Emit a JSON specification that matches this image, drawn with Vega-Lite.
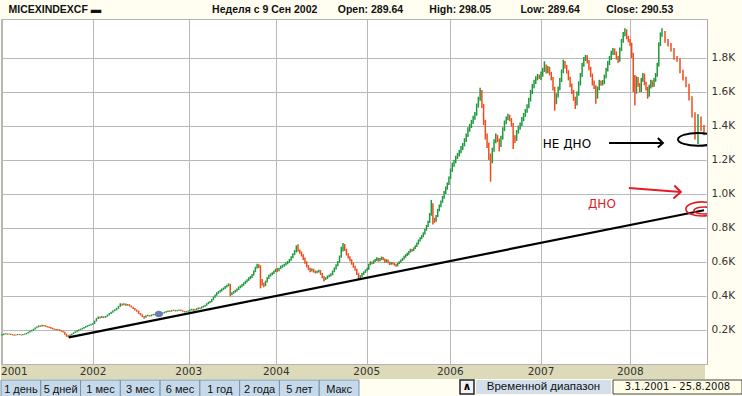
{
"$schema": "https://vega.github.io/schema/vega-lite/v6.json",
"background": "#fffef0",
"padding": {"top": 5, "left": 0, "right": 0, "bottom": 0},
"spacing": 0,
"config": {"view": {"stroke": null}, "concat": {"spacing": 0}},
"title": {"text": "MICEXINDEXCF \u25ac\u00a0\u00a0\u00a0\u00a0\u00a0\u00a0\u00a0\u00a0\u00a0\u00a0\u00a0\u00a0\u00a0\u00a0\u00a0\u00a0\u00a0\u00a0\u00a0\u00a0\u00a0\u00a0\u00a0\u00a0\u00a0\u00a0\u00a0\u00a0\u00a0\u00a0\u00a0\u00a0\u00a0\u00a0\u00a0\u00a0\u00a0\u00a0Неделя с 9 Сен 2002\u00a0\u00a0\u00a0\u00a0\u00a0\u00a0\u00a0Open: 289.64\u00a0\u00a0\u00a0\u00a0\u00a0\u00a0\u00a0\u00a0\u00a0High: 298.05\u00a0\u00a0\u00a0\u00a0\u00a0\u00a0\u00a0\u00a0\u00a0\u00a0Low: 289.64\u00a0\u00a0\u00a0\u00a0\u00a0\u00a0\u00a0\u00a0\u00a0Close: 290.53", "anchor": "start", "dx": 8, "offset": 3, "font": "Liberation Sans", "fontSize": 10.5, "fontWeight": "bold", "color": "#111111"},
"datasets": {
"w": [
{"d":"2001-01-01","o":168,"h":175,"l":166,"c":172},
{"d":"2001-01-08","o":172,"h":179,"l":170,"c":176},
{"d":"2001-01-15","o":176,"h":181,"l":174,"c":178},
{"d":"2001-01-22","o":178,"h":180,"l":172,"c":175},
{"d":"2001-01-29","o":175,"h":179,"l":173,"c":177},
{"d":"2001-02-05","o":177,"h":178,"l":171,"c":174},
{"d":"2001-02-12","o":174,"h":176,"l":169,"c":172},
{"d":"2001-02-19","o":172,"h":174,"l":166,"c":169},
{"d":"2001-02-26","o":169,"h":173,"l":167,"c":171},
{"d":"2001-03-05","o":171,"h":176,"l":170,"c":174},
{"d":"2001-03-12","o":174,"h":176,"l":170,"c":172},
{"d":"2001-03-19","o":172,"h":174,"l":167,"c":170},
{"d":"2001-03-26","o":170,"h":176,"l":169,"c":174},
{"d":"2001-04-02","o":174,"h":179,"l":172,"c":177},
{"d":"2001-04-09","o":177,"h":183,"l":175,"c":181},
{"d":"2001-04-16","o":181,"h":189,"l":179,"c":187},
{"d":"2001-04-23","o":187,"h":195,"l":185,"c":193},
{"d":"2001-04-30","o":193,"h":201,"l":191,"c":199},
{"d":"2001-05-07","o":199,"h":207,"l":196,"c":205},
{"d":"2001-05-14","o":205,"h":214,"l":203,"c":212},
{"d":"2001-05-21","o":212,"h":221,"l":210,"c":219},
{"d":"2001-05-28","o":219,"h":227,"l":216,"c":224},
{"d":"2001-06-04","o":224,"h":227,"l":218,"c":222},
{"d":"2001-06-11","o":222,"h":231,"l":220,"c":228},
{"d":"2001-06-18","o":228,"h":230,"l":222,"c":226},
{"d":"2001-06-25","o":226,"h":228,"l":218,"c":221},
{"d":"2001-07-02","o":221,"h":223,"l":215,"c":218},
{"d":"2001-07-09","o":218,"h":220,"l":211,"c":214},
{"d":"2001-07-16","o":214,"h":217,"l":207,"c":210},
{"d":"2001-07-23","o":210,"h":213,"l":204,"c":207},
{"d":"2001-07-30","o":207,"h":209,"l":201,"c":204},
{"d":"2001-08-06","o":204,"h":206,"l":198,"c":200},
{"d":"2001-08-13","o":200,"h":205,"l":198,"c":203},
{"d":"2001-08-20","o":203,"h":205,"l":194,"c":196},
{"d":"2001-08-27","o":196,"h":198,"l":190,"c":193},
{"d":"2001-09-03","o":193,"h":195,"l":185,"c":188},
{"d":"2001-09-10","o":188,"h":190,"l":172,"c":176},
{"d":"2001-09-17","o":176,"h":178,"l":160,"c":166},
{"d":"2001-09-24","o":166,"h":170,"l":156,"c":163},
{"d":"2001-10-01","o":163,"h":174,"l":161,"c":171},
{"d":"2001-10-08","o":171,"h":180,"l":169,"c":178},
{"d":"2001-10-15","o":178,"h":186,"l":176,"c":184},
{"d":"2001-10-22","o":184,"h":192,"l":182,"c":190},
{"d":"2001-10-29","o":190,"h":198,"l":187,"c":196},
{"d":"2001-11-05","o":196,"h":203,"l":193,"c":201},
{"d":"2001-11-12","o":201,"h":208,"l":199,"c":206},
{"d":"2001-11-19","o":206,"h":213,"l":203,"c":211},
{"d":"2001-11-26","o":211,"h":218,"l":208,"c":216},
{"d":"2001-12-03","o":216,"h":223,"l":213,"c":221},
{"d":"2001-12-10","o":221,"h":228,"l":218,"c":226},
{"d":"2001-12-17","o":226,"h":232,"l":223,"c":230},
{"d":"2001-12-24","o":230,"h":236,"l":227,"c":234},
{"d":"2001-12-31","o":234,"h":240,"l":231,"c":237},
{"d":"2002-01-07","o":237,"h":255,"l":235,"c":252},
{"d":"2002-01-14","o":252,"h":270,"l":250,"c":268},
{"d":"2002-01-21","o":268,"h":280,"l":265,"c":276},
{"d":"2002-01-28","o":276,"h":279,"l":268,"c":272},
{"d":"2002-02-04","o":272,"h":282,"l":270,"c":278},
{"d":"2002-02-11","o":278,"h":280,"l":270,"c":274},
{"d":"2002-02-18","o":274,"h":283,"l":272,"c":280},
{"d":"2002-02-25","o":280,"h":291,"l":278,"c":288},
{"d":"2002-03-04","o":288,"h":299,"l":286,"c":296},
{"d":"2002-03-11","o":296,"h":308,"l":294,"c":305},
{"d":"2002-03-18","o":305,"h":316,"l":302,"c":313},
{"d":"2002-03-25","o":313,"h":322,"l":310,"c":318},
{"d":"2002-04-01","o":318,"h":330,"l":316,"c":326},
{"d":"2002-04-08","o":326,"h":342,"l":324,"c":338},
{"d":"2002-04-15","o":338,"h":357,"l":336,"c":352},
{"d":"2002-04-22","o":352,"h":356,"l":343,"c":348},
{"d":"2002-04-29","o":348,"h":358,"l":346,"c":354},
{"d":"2002-05-06","o":354,"h":356,"l":342,"c":346},
{"d":"2002-05-13","o":346,"h":353,"l":343,"c":350},
{"d":"2002-05-20","o":350,"h":352,"l":338,"c":342},
{"d":"2002-05-27","o":342,"h":344,"l":332,"c":335},
{"d":"2002-06-03","o":335,"h":337,"l":323,"c":326},
{"d":"2002-06-10","o":326,"h":329,"l":315,"c":318},
{"d":"2002-06-17","o":318,"h":320,"l":308,"c":312},
{"d":"2002-06-24","o":312,"h":314,"l":294,"c":298},
{"d":"2002-07-01","o":298,"h":300,"l":286,"c":290},
{"d":"2002-07-08","o":290,"h":292,"l":276,"c":280},
{"d":"2002-07-15","o":280,"h":283,"l":266,"c":275},
{"d":"2002-07-22","o":275,"h":287,"l":272,"c":284},
{"d":"2002-07-29","o":284,"h":290,"l":281,"c":286},
{"d":"2002-08-05","o":286,"h":288,"l":279,"c":282},
{"d":"2002-08-12","o":282,"h":291,"l":280,"c":288},
{"d":"2002-08-19","o":288,"h":295,"l":286,"c":292},
{"d":"2002-08-26","o":292,"h":294,"l":286,"c":289},
{"d":"2002-09-02","o":289,"h":292,"l":285,"c":288},
{"d":"2002-09-09","o":289.64,"h":298.05,"l":289.64,"c":290.53},
{"d":"2002-09-16","o":291,"h":299,"l":289,"c":296},
{"d":"2002-09-23","o":296,"h":303,"l":294,"c":300},
{"d":"2002-09-30","o":300,"h":307,"l":298,"c":304},
{"d":"2002-10-07","o":304,"h":311,"l":302,"c":308},
{"d":"2002-10-14","o":308,"h":315,"l":306,"c":312},
{"d":"2002-10-21","o":312,"h":314,"l":306,"c":310},
{"d":"2002-10-28","o":310,"h":317,"l":308,"c":314},
{"d":"2002-11-04","o":314,"h":320,"l":312,"c":316},
{"d":"2002-11-11","o":316,"h":318,"l":309,"c":312},
{"d":"2002-11-18","o":312,"h":318,"l":310,"c":315},
{"d":"2002-11-25","o":315,"h":321,"l":313,"c":318},
{"d":"2002-12-02","o":318,"h":320,"l":311,"c":314},
{"d":"2002-12-09","o":314,"h":316,"l":307,"c":310},
{"d":"2002-12-16","o":310,"h":312,"l":303,"c":306},
{"d":"2002-12-23","o":306,"h":312,"l":304,"c":309},
{"d":"2002-12-30","o":309,"h":314,"l":307,"c":311},
{"d":"2003-01-06","o":311,"h":321,"l":309,"c":318},
{"d":"2003-01-13","o":318,"h":325,"l":315,"c":322},
{"d":"2003-01-20","o":322,"h":324,"l":313,"c":316},
{"d":"2003-01-27","o":316,"h":323,"l":314,"c":320},
{"d":"2003-02-03","o":320,"h":328,"l":318,"c":325},
{"d":"2003-02-10","o":325,"h":333,"l":322,"c":330},
{"d":"2003-02-17","o":330,"h":333,"l":324,"c":328},
{"d":"2003-02-24","o":328,"h":338,"l":326,"c":335},
{"d":"2003-03-03","o":335,"h":343,"l":332,"c":340},
{"d":"2003-03-10","o":340,"h":349,"l":337,"c":346},
{"d":"2003-03-17","o":346,"h":358,"l":343,"c":355},
{"d":"2003-03-24","o":355,"h":366,"l":352,"c":362},
{"d":"2003-03-31","o":362,"h":370,"l":358,"c":366},
{"d":"2003-04-07","o":366,"h":382,"l":363,"c":378},
{"d":"2003-04-14","o":378,"h":396,"l":375,"c":392},
{"d":"2003-04-21","o":392,"h":409,"l":389,"c":405},
{"d":"2003-04-28","o":405,"h":422,"l":401,"c":418},
{"d":"2003-05-05","o":418,"h":429,"l":413,"c":425},
{"d":"2003-05-12","o":425,"h":436,"l":420,"c":432},
{"d":"2003-05-19","o":432,"h":444,"l":427,"c":440},
{"d":"2003-05-26","o":440,"h":450,"l":435,"c":446},
{"d":"2003-06-02","o":446,"h":459,"l":441,"c":455},
{"d":"2003-06-09","o":455,"h":466,"l":450,"c":462},
{"d":"2003-06-16","o":462,"h":474,"l":457,"c":468},
{"d":"2003-06-23","o":468,"h":472,"l":398,"c":410},
{"d":"2003-06-30","o":410,"h":422,"l":404,"c":418},
{"d":"2003-07-07","o":418,"h":429,"l":413,"c":425},
{"d":"2003-07-14","o":425,"h":436,"l":420,"c":432},
{"d":"2003-07-21","o":432,"h":444,"l":427,"c":440},
{"d":"2003-07-28","o":440,"h":455,"l":435,"c":450},
{"d":"2003-08-04","o":450,"h":462,"l":445,"c":458},
{"d":"2003-08-11","o":458,"h":470,"l":452,"c":466},
{"d":"2003-08-18","o":466,"h":480,"l":460,"c":476},
{"d":"2003-08-25","o":476,"h":490,"l":470,"c":486},
{"d":"2003-09-01","o":486,"h":499,"l":480,"c":495},
{"d":"2003-09-08","o":495,"h":510,"l":489,"c":505},
{"d":"2003-09-15","o":505,"h":518,"l":498,"c":512},
{"d":"2003-09-22","o":512,"h":530,"l":506,"c":525},
{"d":"2003-09-29","o":525,"h":550,"l":520,"c":545},
{"d":"2003-10-06","o":545,"h":572,"l":540,"c":568},
{"d":"2003-10-13","o":568,"h":590,"l":562,"c":582},
{"d":"2003-10-20","o":582,"h":586,"l":565,"c":575},
{"d":"2003-10-27","o":575,"h":580,"l":445,"c":495},
{"d":"2003-11-03","o":495,"h":500,"l":462,"c":470},
{"d":"2003-11-10","o":470,"h":478,"l":452,"c":462},
{"d":"2003-11-17","o":462,"h":490,"l":458,"c":485},
{"d":"2003-11-24","o":485,"h":510,"l":480,"c":505},
{"d":"2003-12-01","o":505,"h":525,"l":500,"c":520},
{"d":"2003-12-08","o":520,"h":533,"l":514,"c":528},
{"d":"2003-12-15","o":528,"h":540,"l":522,"c":535},
{"d":"2003-12-22","o":535,"h":550,"l":530,"c":545},
{"d":"2003-12-29","o":545,"h":560,"l":540,"c":556},
{"d":"2004-01-05","o":556,"h":565,"l":540,"c":548},
{"d":"2004-01-12","o":548,"h":566,"l":545,"c":562},
{"d":"2004-01-19","o":562,"h":578,"l":558,"c":572},
{"d":"2004-01-26","o":572,"h":584,"l":566,"c":578},
{"d":"2004-02-02","o":578,"h":590,"l":572,"c":585},
{"d":"2004-02-09","o":585,"h":598,"l":579,"c":592},
{"d":"2004-02-16","o":592,"h":606,"l":586,"c":600},
{"d":"2004-02-23","o":600,"h":618,"l":595,"c":612},
{"d":"2004-03-01","o":612,"h":634,"l":607,"c":628},
{"d":"2004-03-08","o":628,"h":652,"l":622,"c":645},
{"d":"2004-03-15","o":645,"h":670,"l":640,"c":662},
{"d":"2004-03-22","o":662,"h":698,"l":656,"c":688},
{"d":"2004-03-29","o":688,"h":704,"l":660,"c":668},
{"d":"2004-04-05","o":668,"h":674,"l":648,"c":655},
{"d":"2004-04-12","o":655,"h":662,"l":632,"c":640},
{"d":"2004-04-19","o":640,"h":646,"l":612,"c":620},
{"d":"2004-04-26","o":620,"h":626,"l":590,"c":598},
{"d":"2004-05-03","o":598,"h":604,"l":568,"c":575},
{"d":"2004-05-10","o":575,"h":582,"l":552,"c":560},
{"d":"2004-05-17","o":560,"h":566,"l":540,"c":548},
{"d":"2004-05-24","o":548,"h":562,"l":544,"c":556},
{"d":"2004-05-31","o":556,"h":560,"l":538,"c":545},
{"d":"2004-06-07","o":545,"h":550,"l":532,"c":538},
{"d":"2004-06-14","o":538,"h":548,"l":534,"c":542},
{"d":"2004-06-21","o":542,"h":555,"l":538,"c":548},
{"d":"2004-06-28","o":548,"h":552,"l":524,"c":530},
{"d":"2004-07-05","o":530,"h":535,"l":505,"c":512},
{"d":"2004-07-12","o":512,"h":518,"l":485,"c":498},
{"d":"2004-07-19","o":498,"h":510,"l":494,"c":505},
{"d":"2004-07-26","o":505,"h":520,"l":500,"c":515},
{"d":"2004-08-02","o":515,"h":526,"l":510,"c":520},
{"d":"2004-08-09","o":520,"h":534,"l":515,"c":528},
{"d":"2004-08-16","o":528,"h":550,"l":522,"c":545},
{"d":"2004-08-23","o":545,"h":568,"l":540,"c":562},
{"d":"2004-08-30","o":562,"h":586,"l":556,"c":580},
{"d":"2004-09-06","o":580,"h":606,"l":575,"c":600},
{"d":"2004-09-13","o":600,"h":638,"l":595,"c":630},
{"d":"2004-09-20","o":630,"h":690,"l":625,"c":668},
{"d":"2004-09-27","o":668,"h":712,"l":662,"c":700},
{"d":"2004-10-04","o":700,"h":706,"l":665,"c":672},
{"d":"2004-10-11","o":672,"h":678,"l":638,"c":645},
{"d":"2004-10-18","o":645,"h":652,"l":620,"c":628},
{"d":"2004-10-25","o":628,"h":634,"l":604,"c":610},
{"d":"2004-11-01","o":610,"h":616,"l":584,"c":590},
{"d":"2004-11-08","o":590,"h":596,"l":566,"c":572},
{"d":"2004-11-15","o":572,"h":578,"l":548,"c":555},
{"d":"2004-11-22","o":555,"h":560,"l":524,"c":530},
{"d":"2004-11-29","o":530,"h":536,"l":495,"c":505},
{"d":"2004-12-06","o":505,"h":522,"l":500,"c":518},
{"d":"2004-12-13","o":518,"h":535,"l":512,"c":530},
{"d":"2004-12-20","o":530,"h":545,"l":524,"c":540},
{"d":"2004-12-27","o":540,"h":556,"l":535,"c":552},
{"d":"2005-01-03","o":552,"h":566,"l":545,"c":560},
{"d":"2005-01-10","o":560,"h":590,"l":555,"c":585},
{"d":"2005-01-17","o":585,"h":604,"l":580,"c":598},
{"d":"2005-01-24","o":598,"h":602,"l":586,"c":592},
{"d":"2005-01-31","o":592,"h":610,"l":588,"c":605},
{"d":"2005-02-07","o":605,"h":618,"l":600,"c":612},
{"d":"2005-02-14","o":612,"h":628,"l":606,"c":620},
{"d":"2005-02-21","o":620,"h":624,"l":602,"c":608},
{"d":"2005-02-28","o":608,"h":624,"l":604,"c":618},
{"d":"2005-03-07","o":618,"h":632,"l":612,"c":625},
{"d":"2005-03-14","o":625,"h":630,"l":610,"c":615},
{"d":"2005-03-21","o":615,"h":620,"l":596,"c":602},
{"d":"2005-03-28","o":602,"h":616,"l":598,"c":610},
{"d":"2005-04-04","o":610,"h":614,"l":592,"c":598},
{"d":"2005-04-11","o":598,"h":602,"l":582,"c":588},
{"d":"2005-04-18","o":588,"h":600,"l":584,"c":595},
{"d":"2005-04-25","o":595,"h":598,"l":585,"c":590},
{"d":"2005-05-02","o":590,"h":594,"l":578,"c":584},
{"d":"2005-05-09","o":584,"h":588,"l":572,"c":578},
{"d":"2005-05-16","o":578,"h":596,"l":574,"c":592},
{"d":"2005-05-23","o":592,"h":605,"l":588,"c":600},
{"d":"2005-05-30","o":600,"h":615,"l":596,"c":610},
{"d":"2005-06-06","o":610,"h":624,"l":606,"c":618},
{"d":"2005-06-13","o":618,"h":636,"l":614,"c":630},
{"d":"2005-06-20","o":630,"h":646,"l":625,"c":640},
{"d":"2005-06-27","o":640,"h":654,"l":635,"c":648},
{"d":"2005-07-04","o":648,"h":666,"l":643,"c":660},
{"d":"2005-07-11","o":660,"h":678,"l":655,"c":672},
{"d":"2005-07-18","o":672,"h":676,"l":660,"c":668},
{"d":"2005-07-25","o":668,"h":686,"l":664,"c":680},
{"d":"2005-08-01","o":680,"h":698,"l":676,"c":692},
{"d":"2005-08-08","o":692,"h":714,"l":688,"c":708},
{"d":"2005-08-15","o":708,"h":732,"l":703,"c":725},
{"d":"2005-08-22","o":725,"h":746,"l":720,"c":740},
{"d":"2005-08-29","o":740,"h":758,"l":734,"c":752},
{"d":"2005-09-05","o":752,"h":774,"l":746,"c":768},
{"d":"2005-09-12","o":768,"h":796,"l":762,"c":790},
{"d":"2005-09-19","o":790,"h":818,"l":784,"c":812},
{"d":"2005-09-26","o":812,"h":842,"l":806,"c":835},
{"d":"2005-10-03","o":835,"h":888,"l":830,"c":880},
{"d":"2005-10-10","o":880,"h":965,"l":872,"c":940},
{"d":"2005-10-17","o":940,"h":945,"l":820,"c":850},
{"d":"2005-10-24","o":850,"h":860,"l":830,"c":842},
{"d":"2005-10-31","o":842,"h":876,"l":836,"c":870},
{"d":"2005-11-07","o":870,"h":912,"l":864,"c":905},
{"d":"2005-11-14","o":905,"h":938,"l":898,"c":930},
{"d":"2005-11-21","o":930,"h":962,"l":922,"c":955},
{"d":"2005-11-28","o":955,"h":988,"l":948,"c":980},
{"d":"2005-12-05","o":980,"h":1018,"l":972,"c":1010},
{"d":"2005-12-12","o":1010,"h":1044,"l":1000,"c":1035},
{"d":"2005-12-19","o":1035,"h":1068,"l":1025,"c":1060},
{"d":"2005-12-26","o":1060,"h":1102,"l":1052,"c":1095},
{"d":"2006-01-02","o":1095,"h":1150,"l":1088,"c":1140},
{"d":"2006-01-09","o":1140,"h":1185,"l":1130,"c":1175},
{"d":"2006-01-16","o":1175,"h":1200,"l":1160,"c":1190},
{"d":"2006-01-23","o":1190,"h":1225,"l":1180,"c":1215},
{"d":"2006-01-30","o":1215,"h":1242,"l":1205,"c":1230},
{"d":"2006-02-06","o":1230,"h":1260,"l":1220,"c":1250},
{"d":"2006-02-13","o":1250,"h":1282,"l":1240,"c":1270},
{"d":"2006-02-20","o":1270,"h":1300,"l":1258,"c":1290},
{"d":"2006-02-27","o":1290,"h":1328,"l":1280,"c":1318},
{"d":"2006-03-06","o":1318,"h":1356,"l":1305,"c":1345},
{"d":"2006-03-13","o":1345,"h":1392,"l":1335,"c":1380},
{"d":"2006-03-20","o":1380,"h":1412,"l":1366,"c":1400},
{"d":"2006-03-27","o":1400,"h":1436,"l":1388,"c":1425},
{"d":"2006-04-03","o":1425,"h":1460,"l":1412,"c":1448},
{"d":"2006-04-10","o":1448,"h":1482,"l":1436,"c":1470},
{"d":"2006-04-17","o":1470,"h":1532,"l":1460,"c":1520},
{"d":"2006-04-24","o":1520,"h":1572,"l":1508,"c":1560},
{"d":"2006-05-01","o":1560,"h":1625,"l":1548,"c":1605},
{"d":"2006-05-08","o":1605,"h":1612,"l":1505,"c":1520},
{"d":"2006-05-15","o":1520,"h":1530,"l":1405,"c":1420},
{"d":"2006-05-22","o":1420,"h":1436,"l":1320,"c":1340},
{"d":"2006-05-29","o":1340,"h":1355,"l":1270,"c":1290},
{"d":"2006-06-05","o":1290,"h":1302,"l":1200,"c":1220},
{"d":"2006-06-12","o":1220,"h":1238,"l":1072,"c":1190},
{"d":"2006-06-19","o":1190,"h":1272,"l":1180,"c":1260},
{"d":"2006-06-26","o":1260,"h":1322,"l":1248,"c":1310},
{"d":"2006-07-03","o":1310,"h":1355,"l":1298,"c":1340},
{"d":"2006-07-10","o":1340,"h":1348,"l":1305,"c":1320},
{"d":"2006-07-17","o":1320,"h":1326,"l":1250,"c":1285},
{"d":"2006-07-24","o":1285,"h":1342,"l":1276,"c":1330},
{"d":"2006-07-31","o":1330,"h":1392,"l":1320,"c":1380},
{"d":"2006-08-07","o":1380,"h":1432,"l":1370,"c":1420},
{"d":"2006-08-14","o":1420,"h":1456,"l":1410,"c":1445},
{"d":"2006-08-21","o":1445,"h":1472,"l":1434,"c":1460},
{"d":"2006-08-28","o":1460,"h":1466,"l":1428,"c":1440},
{"d":"2006-09-04","o":1440,"h":1446,"l":1398,"c":1410},
{"d":"2006-09-11","o":1410,"h":1418,"l":1264,"c":1330},
{"d":"2006-09-18","o":1330,"h":1345,"l":1300,"c":1320},
{"d":"2006-09-25","o":1320,"h":1376,"l":1312,"c":1365},
{"d":"2006-10-02","o":1365,"h":1402,"l":1355,"c":1390},
{"d":"2006-10-09","o":1390,"h":1420,"l":1378,"c":1410},
{"d":"2006-10-16","o":1410,"h":1452,"l":1400,"c":1440},
{"d":"2006-10-23","o":1440,"h":1476,"l":1428,"c":1465},
{"d":"2006-10-30","o":1465,"h":1500,"l":1454,"c":1490},
{"d":"2006-11-06","o":1490,"h":1528,"l":1478,"c":1515},
{"d":"2006-11-13","o":1515,"h":1566,"l":1504,"c":1555},
{"d":"2006-11-20","o":1555,"h":1612,"l":1544,"c":1600},
{"d":"2006-11-27","o":1600,"h":1648,"l":1588,"c":1635},
{"d":"2006-12-04","o":1635,"h":1672,"l":1622,"c":1660},
{"d":"2006-12-11","o":1660,"h":1692,"l":1646,"c":1680},
{"d":"2006-12-18","o":1680,"h":1706,"l":1668,"c":1695},
{"d":"2006-12-25","o":1695,"h":1702,"l":1676,"c":1690},
{"d":"2007-01-01","o":1690,"h":1720,"l":1670,"c":1700},
{"d":"2007-01-08","o":1700,"h":1742,"l":1690,"c":1730},
{"d":"2007-01-15","o":1730,"h":1780,"l":1718,"c":1755},
{"d":"2007-01-22","o":1755,"h":1762,"l":1708,"c":1720},
{"d":"2007-01-29","o":1720,"h":1752,"l":1710,"c":1740},
{"d":"2007-02-05","o":1740,"h":1748,"l":1698,"c":1710},
{"d":"2007-02-12","o":1710,"h":1718,"l":1668,"c":1680},
{"d":"2007-02-19","o":1680,"h":1688,"l":1608,"c":1620},
{"d":"2007-02-26","o":1620,"h":1630,"l":1490,"c":1540},
{"d":"2007-03-05","o":1540,"h":1592,"l":1528,"c":1580},
{"d":"2007-03-12","o":1580,"h":1632,"l":1568,"c":1620},
{"d":"2007-03-19","o":1620,"h":1682,"l":1610,"c":1670},
{"d":"2007-03-26","o":1670,"h":1732,"l":1658,"c":1720},
{"d":"2007-04-02","o":1720,"h":1790,"l":1710,"c":1770},
{"d":"2007-04-09","o":1770,"h":1782,"l":1738,"c":1750},
{"d":"2007-04-16","o":1750,"h":1758,"l":1708,"c":1720},
{"d":"2007-04-23","o":1720,"h":1728,"l":1668,"c":1680},
{"d":"2007-04-30","o":1680,"h":1690,"l":1628,"c":1640},
{"d":"2007-05-07","o":1640,"h":1650,"l":1588,"c":1600},
{"d":"2007-05-14","o":1600,"h":1612,"l":1548,"c":1560},
{"d":"2007-05-21","o":1560,"h":1572,"l":1500,"c":1530},
{"d":"2007-05-28","o":1530,"h":1602,"l":1520,"c":1590},
{"d":"2007-06-04","o":1590,"h":1662,"l":1578,"c":1650},
{"d":"2007-06-11","o":1650,"h":1712,"l":1638,"c":1700},
{"d":"2007-06-18","o":1700,"h":1772,"l":1688,"c":1760},
{"d":"2007-06-25","o":1760,"h":1806,"l":1748,"c":1795},
{"d":"2007-07-02","o":1795,"h":1818,"l":1782,"c":1810},
{"d":"2007-07-09","o":1810,"h":1816,"l":1768,"c":1780},
{"d":"2007-07-16","o":1780,"h":1788,"l":1728,"c":1740},
{"d":"2007-07-23","o":1740,"h":1748,"l":1688,"c":1700},
{"d":"2007-07-30","o":1700,"h":1708,"l":1638,"c":1650},
{"d":"2007-08-06","o":1650,"h":1668,"l":1618,"c":1630},
{"d":"2007-08-13","o":1630,"h":1640,"l":1530,"c":1570},
{"d":"2007-08-20","o":1570,"h":1632,"l":1560,"c":1620},
{"d":"2007-08-27","o":1620,"h":1672,"l":1610,"c":1660},
{"d":"2007-09-03","o":1660,"h":1668,"l":1636,"c":1650},
{"d":"2007-09-10","o":1650,"h":1670,"l":1638,"c":1655},
{"d":"2007-09-17","o":1655,"h":1702,"l":1646,"c":1690},
{"d":"2007-09-24","o":1690,"h":1742,"l":1680,"c":1730},
{"d":"2007-10-01","o":1730,"h":1782,"l":1720,"c":1770},
{"d":"2007-10-08","o":1770,"h":1812,"l":1758,"c":1800},
{"d":"2007-10-15","o":1800,"h":1842,"l":1788,"c":1830},
{"d":"2007-10-22","o":1830,"h":1858,"l":1818,"c":1850},
{"d":"2007-10-29","o":1850,"h":1856,"l":1818,"c":1830},
{"d":"2007-11-05","o":1830,"h":1838,"l":1790,"c":1800},
{"d":"2007-11-12","o":1800,"h":1812,"l":1770,"c":1785},
{"d":"2007-11-19","o":1785,"h":1862,"l":1778,"c":1850},
{"d":"2007-11-26","o":1850,"h":1912,"l":1840,"c":1900},
{"d":"2007-12-03","o":1900,"h":1952,"l":1890,"c":1940},
{"d":"2007-12-10","o":1940,"h":1975,"l":1928,"c":1960},
{"d":"2007-12-17","o":1960,"h":1968,"l":1910,"c":1920},
{"d":"2007-12-24","o":1920,"h":1930,"l":1892,"c":1900},
{"d":"2007-12-31","o":1900,"h":1912,"l":1870,"c":1880},
{"d":"2008-01-07","o":1880,"h":1890,"l":1800,"c":1820},
{"d":"2008-01-14","o":1820,"h":1830,"l":1600,"c":1650},
{"d":"2008-01-21","o":1650,"h":1700,"l":1520,"c":1600},
{"d":"2008-01-28","o":1600,"h":1692,"l":1590,"c":1680},
{"d":"2008-02-04","o":1680,"h":1688,"l":1630,"c":1640},
{"d":"2008-02-11","o":1640,"h":1652,"l":1598,"c":1610},
{"d":"2008-02-18","o":1610,"h":1682,"l":1600,"c":1670},
{"d":"2008-02-25","o":1670,"h":1712,"l":1660,"c":1700},
{"d":"2008-03-03","o":1700,"h":1708,"l":1640,"c":1650},
{"d":"2008-03-10","o":1650,"h":1660,"l":1608,"c":1620},
{"d":"2008-03-17","o":1620,"h":1630,"l":1560,"c":1580},
{"d":"2008-03-24","o":1580,"h":1642,"l":1572,"c":1630},
{"d":"2008-03-31","o":1630,"h":1672,"l":1620,"c":1660},
{"d":"2008-04-07","o":1660,"h":1668,"l":1628,"c":1640},
{"d":"2008-04-14","o":1640,"h":1682,"l":1630,"c":1670},
{"d":"2008-04-21","o":1670,"h":1712,"l":1660,"c":1700},
{"d":"2008-04-28","o":1700,"h":1772,"l":1690,"c":1760},
{"d":"2008-05-05","o":1760,"h":1892,"l":1750,"c":1880},
{"d":"2008-05-12","o":1880,"h":1950,"l":1870,"c":1940},
{"d":"2008-05-19","o":1940,"h":1975,"l":1925,"c":1950},
{"d":"2008-05-26","o":1950,"h":1958,"l":1890,"c":1900},
{"d":"2008-06-02","o":1900,"h":1912,"l":1868,"c":1880},
{"d":"2008-06-09","o":1880,"h":1888,"l":1838,"c":1850},
{"d":"2008-06-16","o":1850,"h":1858,"l":1790,"c":1800},
{"d":"2008-06-23","o":1800,"h":1812,"l":1778,"c":1790},
{"d":"2008-06-30","o":1790,"h":1796,"l":1710,"c":1720},
{"d":"2008-07-07","o":1720,"h":1730,"l":1668,"c":1680},
{"d":"2008-07-14","o":1680,"h":1690,"l":1628,"c":1640},
{"d":"2008-07-21","o":1640,"h":1648,"l":1550,"c":1560},
{"d":"2008-07-28","o":1560,"h":1575,"l":1450,"c":1470},
{"d":"2008-08-04","o":1470,"h":1480,"l":1320,"c":1340},
{"d":"2008-08-11","o":1340,"h":1470,"l":1294,"c":1440},
{"d":"2008-08-18","o":1440,"h":1455,"l":1370,"c":1390},
{"d":"2008-08-25","o":1390,"h":1405,"l":1345,"c":1360}
]
},
"vconcat": [
{
"width": 706,
"height": 345,
"view": {"fill": "#ffffff", "stroke": "#b4b4b4"},
"layer": [
{
"data": {"name": "w", "format": {"parse": {"d": "date"}}},
"mark": {"type": "rule", "strokeWidth": 1.5},
"encoding": {
"x": {"field": "d", "type": "quantitative",
 "scale": {"nice": false, "zero": false,
  "domain": [978307200000, 1009843200000, 1041379200000, 1072915200000, 1104537600000, 1136073600000, 1167609600000, 1199145600000, 1211155200000, 1219622400000, 1220227200000],
  "range": [1, 92, 187.7, 275.3, 365.7, 449.3, 540, 629.3, 661, 703, 706]},
 "axis": {"orient": "bottom", "title": null, "values": [978307200000, 1009843200000, 1041379200000, 1072915200000, 1104537600000, 1136073600000, 1167609600000, 1199145600000],
  "grid": true, "gridColor": "#b8b8b8", "gridOpacity": 1, "ticks": false, "domain": false, "labels": false}},
"y": {"field": "l", "type": "quantitative",
 "scale": {"domain": [0, 2029], "nice": false, "zero": true},
 "axis": {"orient": "right", "title": null, "values": [200, 400, 600, 800, 1000, 1200, 1400, 1600, 1800],
  "labelExpr": "format(datum.value/1000, '.1f') + 'K'", "grid": true, "gridColor": "#b8b8b8", "gridOpacity": 1,
  "ticks": false, "domain": true, "domainColor": "#a8a8a8", "labelPadding": 4,
  "labelFont": "DejaVu Sans", "labelFontSize": 10.5, "labelColor": "#333333"}},
"y2": {"field": "h"},
"color": {"condition": {"test": "datum.c >= datum.o", "value": "#1d9a3c"}, "value": "#f24a1a"}
}
},
{
"data": {"values": [{"d": "2002-09-09", "v": 294}], "format": {"parse": {"d": "date"}}},
"mark": {"type": "point", "shape": "M-1,0A1,0.75 0 1,0 1,0A1,0.75 0 1,0 -1,0", "filled": true, "size": 70, "color": "#6a7bb5", "opacity": 1},
"encoding": {"x": {"field": "d", "type": "quantitative", "scale": {"nice": false, "zero": false, "domain": [978307200000, 1009843200000, 1041379200000, 1072915200000, 1104537600000, 1136073600000, 1167609600000, 1199145600000, 1211155200000, 1219622400000, 1220227200000], "range": [1, 92, 187.7, 275.3, 365.7, 449.3, 540, 629.3, 661, 703, 706]}}, "y": {"field": "v", "type": "quantitative", "scale": {"domain": [0, 2029], "nice": false, "zero": true}}}
},
{
"data": {"values": [{"d": "2001-09-26", "v": 157}, {"d": "2008-08-25", "v": 904}], "format": {"parse": {"d": "date"}}},
"mark": {"type": "line", "color": "#000000", "strokeWidth": 2.2, "clip": true},
"encoding": {"x": {"field": "d", "type": "quantitative", "scale": {"nice": false, "zero": false, "domain": [978307200000, 1009843200000, 1041379200000, 1072915200000, 1104537600000, 1136073600000, 1167609600000, 1199145600000, 1211155200000, 1219622400000, 1220227200000], "range": [1, 92, 187.7, 275.3, 365.7, 449.3, 540, 629.3, 661, 703, 706]}}, "y": {"field": "v", "type": "quantitative", "scale": {"domain": [0, 2029], "nice": false, "zero": true}}}
},
{
"data": {"values": [{"d": "2007-10-06", "v": 1300}, {"d": "2008-05-21", "v": 1300}], "format": {"parse": {"d": "date"}}},
"mark": {"type": "line", "color": "#000000", "strokeWidth": 2, "clip": true},
"encoding": {"x": {"field": "d", "type": "quantitative", "scale": {"nice": false, "zero": false, "domain": [978307200000, 1009843200000, 1041379200000, 1072915200000, 1104537600000, 1136073600000, 1167609600000, 1199145600000, 1211155200000, 1219622400000, 1220227200000], "range": [1, 92, 187.7, 275.3, 365.7, 449.3, 540, 629.3, 661, 703, 706]}}, "y": {"field": "v", "type": "quantitative", "scale": {"domain": [0, 2029], "nice": false, "zero": true}}}
},
{
"data": {"values": [{"d": "2008-05-21", "v": 1300}], "format": {"parse": {"d": "date"}}},
"mark": {"type": "point", "shape": "M-1,-1L0,0L-1,0.9", "filled": false, "size": 100, "color": "#000000", "strokeWidth": 2, "opacity": 1},
"encoding": {"x": {"field": "d", "type": "quantitative", "scale": {"nice": false, "zero": false, "domain": [978307200000, 1009843200000, 1041379200000, 1072915200000, 1104537600000, 1136073600000, 1167609600000, 1199145600000, 1211155200000, 1219622400000, 1220227200000], "range": [1, 92, 187.7, 275.3, 365.7, 449.3, 540, 629.3, 661, 703, 706]}}, "y": {"field": "v", "type": "quantitative", "scale": {"domain": [0, 2029], "nice": false, "zero": true}}}
},
{
"data": {"values": [{"d": "2007-12-26", "v": 1035}, {"d": "2008-07-02", "v": 1012}], "format": {"parse": {"d": "date"}}},
"mark": {"type": "line", "color": "#e31b23", "strokeWidth": 2, "clip": true},
"encoding": {"x": {"field": "d", "type": "quantitative", "scale": {"nice": false, "zero": false, "domain": [978307200000, 1009843200000, 1041379200000, 1072915200000, 1104537600000, 1136073600000, 1167609600000, 1199145600000, 1211155200000, 1219622400000, 1220227200000], "range": [1, 92, 187.7, 275.3, 365.7, 449.3, 540, 629.3, 661, 703, 706]}}, "y": {"field": "v", "type": "quantitative", "scale": {"domain": [0, 2029], "nice": false, "zero": true}}}
},
{
"data": {"values": [{"d": "2008-07-02", "v": 1012}], "format": {"parse": {"d": "date"}}},
"mark": {"type": "point", "shape": "M-1,-0.85L0,0L-1,1", "filled": false, "size": 196, "angle": 4, "color": "#e31b23", "strokeWidth": 2, "opacity": 1},
"encoding": {"x": {"field": "d", "type": "quantitative", "scale": {"nice": false, "zero": false, "domain": [978307200000, 1009843200000, 1041379200000, 1072915200000, 1104537600000, 1136073600000, 1167609600000, 1199145600000, 1211155200000, 1219622400000, 1220227200000], "range": [1, 92, 187.7, 275.3, 365.7, 449.3, 540, 629.3, 661, 703, 706]}}, "y": {"field": "v", "type": "quantitative", "scale": {"domain": [0, 2029], "nice": false, "zero": true}}}
},
{
"data": {"values": [{"d": "2008-08-11", "v": 1321}], "format": {"parse": {"d": "date"}}},
"mark": {"type": "point", "shape": "M-1,0A1,0.32 0 1,0 1,0A1,0.32 0 1,0 -1,0", "filled": false, "size": 1600, "color": "#000000", "strokeWidth": 2, "opacity": 1, "clip": true},
"encoding": {"x": {"field": "d", "type": "quantitative", "scale": {"nice": false, "zero": false, "domain": [978307200000, 1009843200000, 1041379200000, 1072915200000, 1104537600000, 1136073600000, 1167609600000, 1199145600000, 1211155200000, 1219622400000, 1220227200000], "range": [1, 92, 187.7, 275.3, 365.7, 449.3, 540, 629.3, 661, 703, 706]}}, "y": {"field": "v", "type": "quantitative", "scale": {"domain": [0, 2029], "nice": false, "zero": true}}}
},
{
"data": {"values": [{"d": "2008-08-20", "v": 912}], "format": {"parse": {"d": "date"}}},
"mark": {"type": "point", "shape": "M-1,0A1,0.44 0 1,0 1,0A1,0.44 0 1,0 -1,0", "filled": false, "size": 1024, "color": "#e31b23", "strokeWidth": 1.6, "opacity": 1, "clip": true},
"encoding": {"x": {"field": "d", "type": "quantitative", "scale": {"nice": false, "zero": false, "domain": [978307200000, 1009843200000, 1041379200000, 1072915200000, 1104537600000, 1136073600000, 1167609600000, 1199145600000, 1211155200000, 1219622400000, 1220227200000], "range": [1, 92, 187.7, 275.3, 365.7, 449.3, 540, 629.3, 661, 703, 706]}}, "y": {"field": "v", "type": "quantitative", "scale": {"domain": [0, 2029], "nice": false, "zero": true}}}
},
{
"data": {"values": [{"d": "2008-08-25", "v": 903}], "format": {"parse": {"d": "date"}}},
"mark": {"type": "point", "shape": "M-1,0A1,0.35 0 1,0 1,0A1,0.35 0 1,0 -1,0", "filled": false, "size": 400, "color": "#e31b23", "strokeWidth": 1.6, "opacity": 1, "clip": true},
"encoding": {"x": {"field": "d", "type": "quantitative", "scale": {"nice": false, "zero": false, "domain": [978307200000, 1009843200000, 1041379200000, 1072915200000, 1104537600000, 1136073600000, 1167609600000, 1199145600000, 1211155200000, 1219622400000, 1220227200000], "range": [1, 92, 187.7, 275.3, 365.7, 449.3, 540, 629.3, 661, 703, 706]}}, "y": {"field": "v", "type": "quantitative", "scale": {"domain": [0, 2029], "nice": false, "zero": true}}}
},
{
"data": {"values": [{"d": "2007-04-17", "v": 1296, "t": "НЕ ДНО"}], "format": {"parse": {"d": "date"}}},
"mark": {"type": "text", "font": "DejaVu Sans", "fontSize": 12, "color": "#000000", "align": "center", "baseline": "middle"},
"encoding": {"x": {"field": "d", "type": "quantitative", "scale": {"nice": false, "zero": false, "domain": [978307200000, 1009843200000, 1041379200000, 1072915200000, 1104537600000, 1136073600000, 1167609600000, 1199145600000, 1211155200000, 1219622400000, 1220227200000], "range": [1, 92, 187.7, 275.3, 365.7, 449.3, 540, 629.3, 661, 703, 706]}}, "y": {"field": "v", "type": "quantitative", "scale": {"domain": [0, 2029], "nice": false, "zero": true}}, "text": {"field": "t"}}
},
{
"data": {"values": [{"d": "2007-09-07", "v": 943, "t": "ДНО"}], "format": {"parse": {"d": "date"}}},
"mark": {"type": "text", "font": "DejaVu Sans", "fontSize": 12, "color": "#e31b23", "align": "center", "baseline": "middle"},
"encoding": {"x": {"field": "d", "type": "quantitative", "scale": {"nice": false, "zero": false, "domain": [978307200000, 1009843200000, 1041379200000, 1072915200000, 1104537600000, 1136073600000, 1167609600000, 1199145600000, 1211155200000, 1219622400000, 1220227200000], "range": [1, 92, 187.7, 275.3, 365.7, 449.3, 540, 629.3, 661, 703, 706]}}, "y": {"field": "v", "type": "quantitative", "scale": {"domain": [0, 2029], "nice": false, "zero": true}}, "text": {"field": "t"}}
}
]
},
{
"width": 704,
"height": 14,
"view": {"fill": "#dcdab8"},
"data": {"values": [{"d": "2001-01-01", "t": "2001"}, {"d": "2002-01-01", "t": "2002"}, {"d": "2003-01-01", "t": "2003"}, {"d": "2004-01-01", "t": "2004"}, {"d": "2005-01-01", "t": "2005"}, {"d": "2006-01-01", "t": "2006"}, {"d": "2007-01-01", "t": "2007"}, {"d": "2008-01-01", "t": "2008"}], "format": {"parse": {"d": "date"}}},
"mark": {"type": "text", "font": "DejaVu Sans", "fontSize": 10.5, "color": "#333333", "baseline": "middle", "align": {"expr": "datum.t == '2001' ? 'left' : 'center'"}},
"encoding": {
"x": {"field": "d", "type": "quantitative", "axis": null, "scale": {"nice": false, "zero": false, "domain": [978307200000, 1009843200000, 1041379200000, 1072915200000, 1104537600000, 1136073600000, 1167609600000, 1199145600000, 1211155200000, 1219622400000, 1220227200000], "range": [0, 92, 187.7, 275.3, 365.7, 449.3, 540, 629.3, 661, 703, 706]}},
"text": {"field": "t"}
}
},
{
"spacing": 99,
"hconcat": [
{
"width": 358,
"height": 20,
"data": {"values": [{"b": "1 день"}, {"b": "5 дней"}, {"b": "1 мес"}, {"b": "3 мес"}, {"b": "6 мес"}, {"b": "1 год"}, {"b": "2 года"}, {"b": "5 лет"}, {"b": "Макс"}]},
"layer": [
{"mark": {"type": "rect", "fill": "#c6d9ea", "stroke": "#7b93aa", "strokeWidth": 1},
 "encoding": {"x": {"field": "b", "type": "nominal", "sort": null, "axis": null, "scale": {"paddingInner": 0, "paddingOuter": 0}}}},
{"mark": {"type": "text", "font": "Liberation Sans", "fontSize": 11, "color": "#111111"},
 "encoding": {"x": {"field": "b", "type": "nominal", "sort": null, "axis": null}, "text": {"field": "b"}}}
]
},
{
"spacing": 1,
"hconcat": [
{
"width": 14, "height": 14,
"data": {"values": [{"t": "∧"}]},
"layer": [
{"mark": {"type": "rect", "fill": "#f4f4f4", "stroke": "#222222", "strokeWidth": 1.5}, "encoding": {}},
{"mark": {"type": "text", "font": "DejaVu Sans", "fontSize": 11, "fontWeight": "bold", "color": "#000000"}, "encoding": {"text": {"field": "t"}}}
]
},
{
"width": 135, "height": 14,
"data": {"values": [{"t": "Временной диапазон"}]},
"layer": [
{"mark": {"type": "rect", "fill": "#d3e0eb"}, "encoding": {}},
{"mark": {"type": "text", "font": "Liberation Sans", "fontSize": 11.5, "color": "#111111"}, "encoding": {"text": {"field": "t"}}}
]
},
{
"width": 129, "height": 14,
"data": {"values": [{"t": "3.1.2001 - 25.8.2008"}]},
"layer": [
{"mark": {"type": "rect", "fill": "#fffde6", "stroke": "#444444", "strokeWidth": 1}, "encoding": {}},
{"mark": {"type": "text", "font": "DejaVu Sans", "fontSize": 10, "color": "#111111"}, "encoding": {"text": {"field": "t"}}}
]
}
]
}
]
}
]
}
